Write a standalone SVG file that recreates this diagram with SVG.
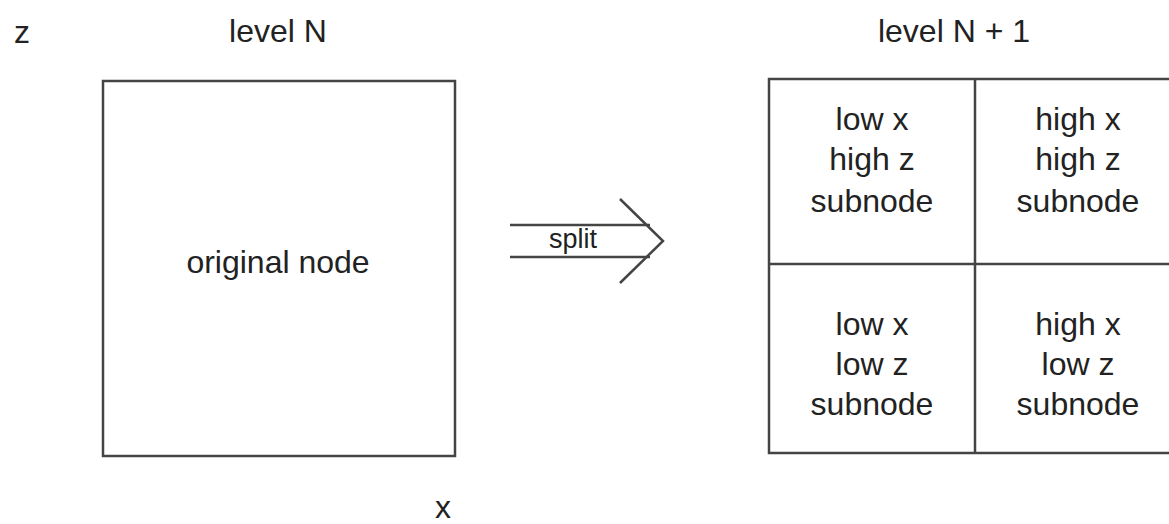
<svg xmlns="http://www.w3.org/2000/svg" width="1169" height="524" viewBox="0 0 1169 524">
<style>
text{font-family:"Liberation Sans",Arial,sans-serif;font-size:32px;fill:#222;text-anchor:middle}
.box{fill:none;stroke:#444;stroke-width:2.5}
.ln{fill:none;stroke:#444;stroke-width:2.5}
.sm{font-size:27px}
</style>
<rect width="1169" height="524" fill="#fff"/>
<g id="labels">
<text x="22" y="43">z</text>
<text x="278" y="42">level N</text>
<text x="954" y="42">level N + 1</text>
<text x="443" y="518">x</text>
</g>
<g id="original">
<rect class="box" x="103" y="81" width="352" height="375"/>
<text x="278" y="273">original node</text>
</g>
<g id="grid">
<rect class="box" x="769" y="79" width="420" height="374"/>
<line class="ln" x1="975" y1="79" x2="975" y2="453"/>
<line class="ln" x1="769" y1="264" x2="1169" y2="264"/>
</g>
<g id="cell-lxhz"><text x="872" y="130">low x</text><text x="872" y="170">high z</text><text x="872" y="212">subnode</text></g>
<g id="cell-hxhz"><text x="1078" y="130">high x</text><text x="1078" y="170">high z</text><text x="1078" y="212">subnode</text></g>
<g id="cell-lxlz"><text x="872" y="335">low x</text><text x="872" y="375">low z</text><text x="872" y="415">subnode</text></g>
<g id="cell-hxlz"><text x="1078" y="335">high x</text><text x="1078" y="375">low z</text><text x="1078" y="415">subnode</text></g>
<g id="connectors">
<line class="ln" x1="510" y1="225" x2="650" y2="225"/>
<line class="ln" x1="510" y1="257" x2="650" y2="257"/>
<polyline class="ln" points="620,199 663,241 620,283"/>
<text class="sm" x="573" y="248">split</text>
</g>
</svg>
